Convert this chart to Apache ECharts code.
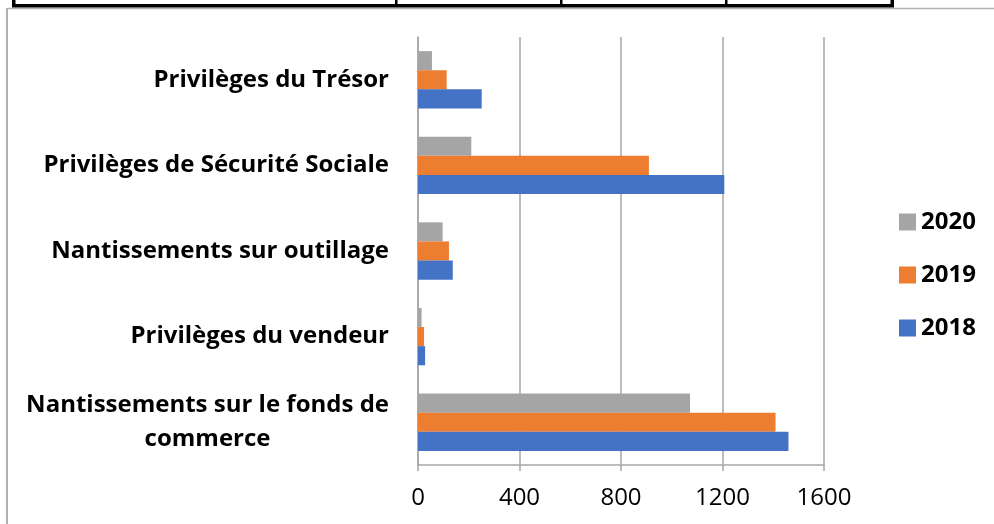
<!DOCTYPE html>
<html>
<head>
<meta charset="utf-8">
<script src="https://cdn.jsdelivr.net/npm/echarts@6/dist/echarts.min.js"></script>
<style>
html, body { margin: 0; padding: 0; background: #fff; }
#chart { width: 994px; height: 524px; }
</style>
</head>
<body>
<div id="chart"></div>
<script>
// categories from bottom to top, as the axis draws them
var categories = [
	'Nantissements sur le fonds de\ncommerce',
	'Privilèges du vendeur',
	'Nantissements sur outillage',
	'Privilèges de Sécurité Sociale',
	'Privilèges du Trésor'
];
// series listed top bar first (ECharts puts the first series on top)
var years = ['2020', '2019', '2018'];
var values2020 = [1072, 14, 97, 210, 55];
var values2019 = [1409, 24, 122, 910, 113];
var values2018 = [1460, 28, 137, 1207, 251];
var colors = ['#A5A5A5', '#ED7D31', '#4472C4'];

var chart = echarts.init(document.getElementById('chart'));
var seriesValues = [values2020, values2019, values2018];
var series = [];
for (var i = 0; i < years.length; i++) {
	series.push({
		name : years[i],
		type : 'bar',
		data : seriesValues[i],
		barGap : '0%',
		barCategoryGap : '33%',
		itemStyle : { color : colors[i] },
		emphasis : { disabled : true }
	});
}

chart.setOption({
	animation : false,
	textStyle : { fontFamily : 'Open Sans' },
	grid : { left : 418, right : 170, top : 37, bottom : 59 },
	legend : {
		data : years,
		orient : 'vertical',
		left : 894,
		top : 205,
		itemWidth : 17,
		itemHeight : 17,
		itemGap : 29,
		icon : 'rect',
		textStyle : { fontFamily : 'Open Sans', fontWeight : 'bold', fontSize : 24, color : '#000', lineHeight : 22, padding : [0, 0, 0, 0] }
	},
	xAxis : {
		type : 'value',
		min : 0,
		max : 1600,
		interval : 400,
		axisLine : { show : true, lineStyle : { color : '#a6a6a6', width : 1.5 } },
		axisTick : { show : true, length : 6, lineStyle : { color : '#a6a6a6', width : 1.5 } },
		splitLine : { lineStyle : { color : '#a6a6a6', width : 1.5 } },
		axisLabel : {
			fontFamily : 'Open Sans', fontSize : 24, color : '#000', margin : 21,
			formatter : function(v) { return String(v); }
		}
	},
	yAxis : {
		type : 'category',
		data : categories,
		axisLine : { lineStyle : { color : '#a6a6a6', width : 1.5 } },
		axisTick : { length : 9, lineStyle : { color : '#a6a6a6', width : 1.5 } },
		axisLabel : {
			margin : 29,
			formatter : function(v) {
				return v.split('\n').map(function(s) { return '{c|' + s + '}'; }).join('\n');
			},
			rich : {
				c : { fontFamily : 'Open Sans', fontWeight : 'bold', fontSize : 24, color : '#000', align : 'center', lineHeight : 34 }
			}
		}
	},
	graphic : [
		// grey frame of the chart area
		{ type : 'line', shape : { x1 : 7, y1 : 8.5, x2 : 994, y2 : 8.5 }, style : { stroke : '#b0b0b0', lineWidth : 1.5 } },
		{ type : 'line', shape : { x1 : 7, y1 : 8, x2 : 7, y2 : 524 }, style : { stroke : '#b0b0b0', lineWidth : 2 } },
		// bottom of the table above
		{ type : 'rect', shape : { x : 12, y : 4, width : 882, height : 3.5 }, style : { fill : '#000' } },
		{ type : 'rect', shape : { x : 12, y : 0, width : 3.5, height : 7 }, style : { fill : '#000' } },
		{ type : 'rect', shape : { x : 395, y : 0, width : 2.5, height : 7 }, style : { fill : '#000' } },
		{ type : 'rect', shape : { x : 560, y : 0, width : 2.5, height : 7 }, style : { fill : '#000' } },
		{ type : 'rect', shape : { x : 725, y : 0, width : 2.5, height : 7 }, style : { fill : '#000' } },
		{ type : 'rect', shape : { x : 890.5, y : 0, width : 3.5, height : 7 }, style : { fill : '#000' } }
	],
	series : series
});
</script>
</body>
</html>
